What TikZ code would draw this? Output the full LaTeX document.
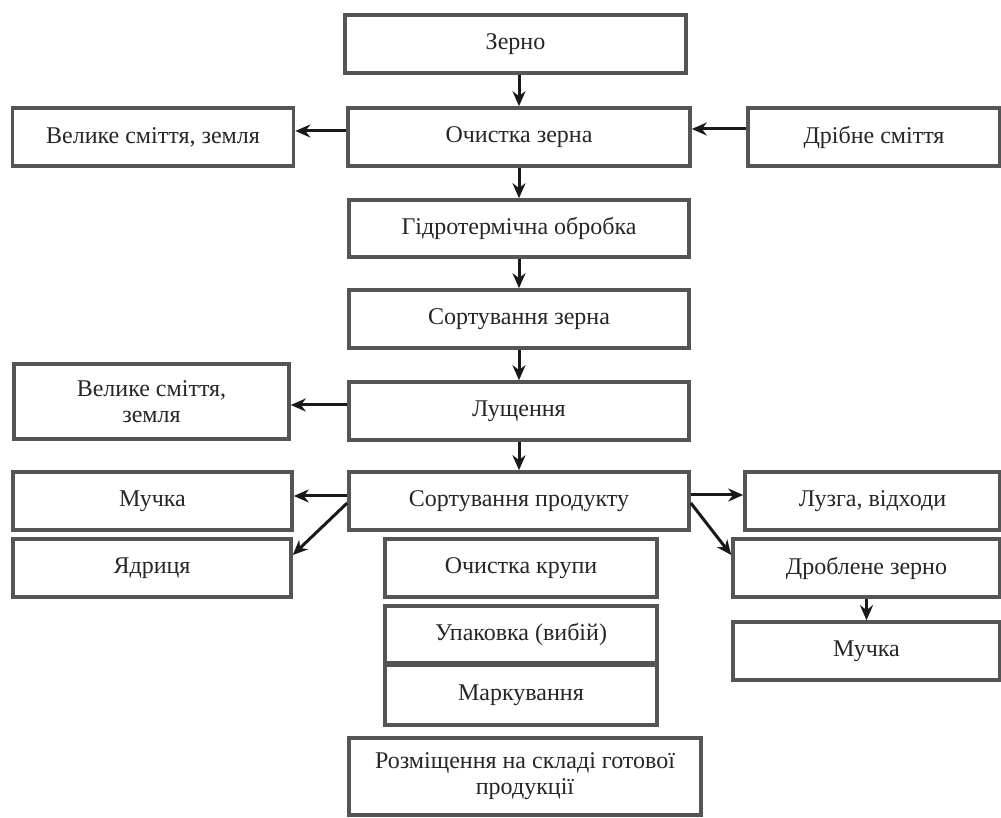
\documentclass[tikz,border=0pt]{standalone}
\usepackage{fontspec}
\setmainfont{Liberation Serif}
\usetikzlibrary{arrows.meta,calc}
\begin{document}
\begin{tikzpicture}[x=1pt,y=1pt,
  box/.style={draw={rgb,255:red,85;green,85;blue,85}, line width=3.6pt, fill=white,
    inner sep=0pt, align=center, font=\fontsize{24}{26}\selectfont, text=black!85},
  arr/.style={line width=3pt, black!90, -{Stealth[length=15pt,width=13pt]}}]
\useasboundingbox (0,0) rectangle (1001,818);
% main column
\node[box, minimum width=341, minimum height=58] (zerno) at (515.5,774) {Зерно};
\node[box, minimum width=342, minimum height=58] (och) at (519,681) {Очистка зерна};
\node[box, minimum width=340, minimum height=57] (hidro) at (519,589.5) {Гідротермічна обробка};
\node[box, minimum width=340, minimum height=58] (sortz) at (519,499) {Сортування зерна};
\node[box, minimum width=340, minimum height=58] (lush) at (519,407) {Лущення};
\node[box, minimum width=340, minimum height=58] (sortp) at (519,317) {Сортування продукту};
% side outputs and inputs
\node[box, minimum width=281, minimum height=58] (vel1) at (153,681) {Велике сміття, земля};
\node[box, minimum width=252, minimum height=58] (drib) at (874,681) {Дрібне сміття};
\node[box, minimum width=275, minimum height=75] (vel2) at (151.5,416.5) {Велике сміття,\\земля};
\node[box, minimum width=279, minimum height=58] (much1) at (152.5,317) {Мучка};
\node[box, minimum width=278, minimum height=58] (yadr) at (152,250) {Ядриця};
\node[box, minimum width=255, minimum height=58] (luzga) at (872.5,317) {Лузга, відходи};
\node[box, minimum width=267, minimum height=58] (drob) at (866.5,250) {Дроблене зерно};
\node[box, minimum width=267, minimum height=58] (much2) at (866.5,167) {Мучка};
% final operations
\node[box, minimum width=272, minimum height=58] (ochk) at (521,250) {Очистка крупи};
\node[box, minimum width=272, minimum height=57] (upak) at (521,183.5) {Упаковка (вибій)};
\node[box, minimum width=272, minimum height=60] (mark) at (521,123) {Маркування};
\node[box, minimum width=352, minimum height=77] (rozm) at (525,41.5) {Розміщення на складі готової\\продукції};
% flow
\draw[arr] (och.north |- zerno.south) -- (och.north);
\draw[arr] (och.south) -- (hidro.north);
\draw[arr] (hidro.south) -- (sortz.north);
\draw[arr] (sortz.south) -- (lush.north);
\draw[arr] (lush.south) -- (sortp.north);
\draw[arr] ($(och.west)+(0,6)$) -- ($(vel1.east |- och.west)+(0,6)$);
\draw[arr] ($(drib.west)+(0,8)$) -- ($(och.east |- drib.west)+(0,8)$);
\draw[arr] ($(lush.west)+(0,6)$) -- ($(vel2.east |- lush.west)+(0,6)$);
\draw[arr] ($(sortp.west)+(0,5)$) -- ($(much1.east |- sortp.west)+(0,5)$);
\draw[arr] ($(sortp.west)+(0,-2)$) -- ($(yadr.east)+(0,13)$);
\draw[arr] ($(sortp.east)+(0,6)$) -- ($(luzga.west |- sortp.east)+(0,6)$);
\draw[arr] ($(sortp.east)+(0,-2)$) -- ($(drob.west)+(0,13)$);
\draw[arr] (drob.south) -- (much2.north);
\end{tikzpicture}
\end{document}
